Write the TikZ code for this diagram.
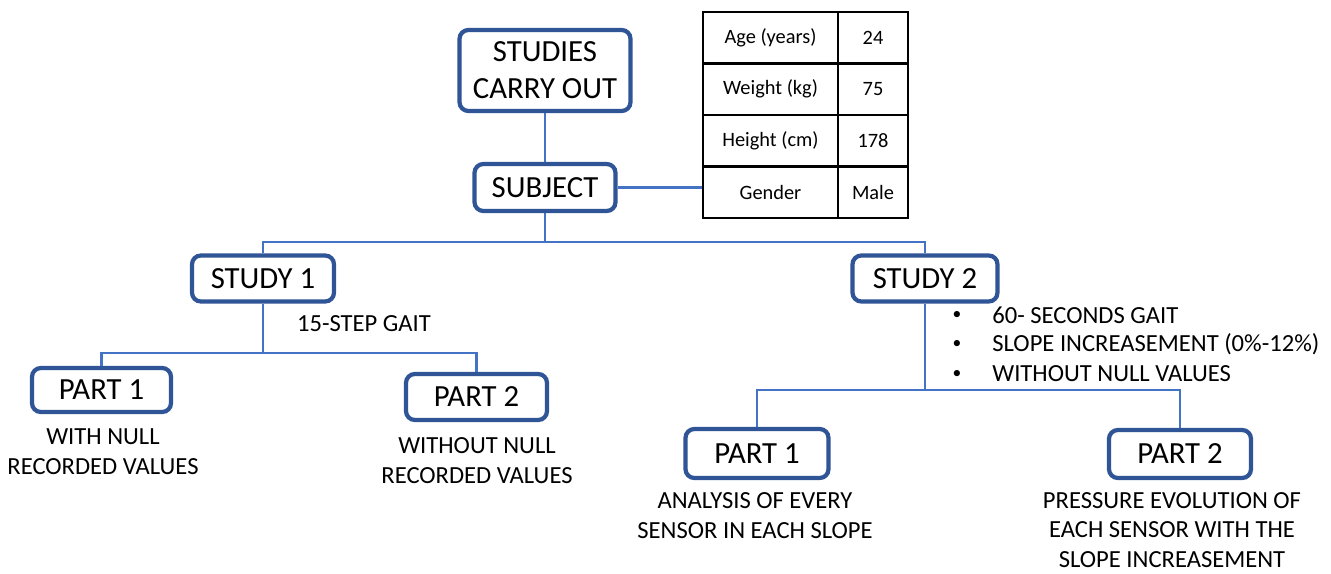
\documentclass[tikz,border=0pt]{standalone}
\usepackage{fontspec}
\setmainfont{Carlito}
\usetikzlibrary{positioning, calc}
\definecolor{boxblue}{HTML}{2F5597}
\definecolor{lineblue}{HTML}{4472C4}

\begin{document}
\begin{tikzpicture}[x=0.02cm, y=-0.02cm,
  box/.style={draw=boxblue, line width=2.4pt, rounded corners=5pt, fill=white,
              minimum width=2.84cm, minimum height=0.92cm, inner sep=0pt,
              align=center, font=\fontsize{17.5}{21}\selectfont},
  conn/.style={draw=lineblue, line width=1.5pt},
  note/.style={inner sep=0pt, align=center, font=\fontsize{14}{17}\selectfont},
  cell/.style={draw=black, line width=1.2pt, inner sep=0pt, minimum height=1.03cm,
               font=\fontsize{11.6}{14}\selectfont}]

\useasboundingbox (0,0) rectangle (1331,574);

% =============== TOP ===============
\node[box, minimum width=3.42cm, minimum height=1.62cm] (studies) at (545,70.5) {STUDIES\\CARRY OUT};
\node[box, minimum width=2.82cm, minimum height=0.94cm] (subject) at (545,187.5) {SUBJECT};

% subject data table
\foreach \lab/\val [count=\r] in {Age (years)/24, Weight (kg)/75, Height (cm)/178, Gender/Male}{
  \node[cell, minimum width=2.7cm] (lab\r) at (770.5,{12+51.5*(\r-0.5)}) {\lab};
  \node[cell, minimum width=1.4cm] (val\r) at (873,{12+51.5*(\r-0.5)}) {\val};
}

\draw[conn] (studies.south) -- (subject.north);
\draw[conn] (subject.east) -- (subject.east -| lab4.west);

% =============== STUDY 1 ===============
\node[box] (study1) at (263,278.5) {STUDY 1};
\node[note] (gait1) at (364,324) {15-STEP GAIT};
\node[box, minimum width=2.78cm, minimum height=0.88cm] (s1p1) at (101.5,390) {PART 1};
\node[box, minimum width=2.82cm] (s1p2) at (476.5,397) {PART 2};
\node[note] (s1n1) at (103,452) {WITH NULL\\RECORDED VALUES};
\node[note] (s1n2) at (477,461) {WITHOUT NULL\\RECORDED VALUES};

% =============== STUDY 2 ===============
\node[box, minimum width=2.9cm] (study2) at (925,278.5) {STUDY 2};
\foreach \txt [count=\i] in {60- SECONDS GAIT, SLOPE INCREASEMENT (0\%-12\%), WITHOUT NULL VALUES}{
  \node[note, font=\fontsize{10}{12}\selectfont] (dot\i) at (957,{315+29.5*(\i-1)}) {\textbullet};
  \node[note, anchor=west] (item\i) at (992,{315+29.5*(\i-1)}) {\txt};
}
\node[box, minimum width=2.86cm, minimum height=0.98cm] (s2p1) at (757,453.5) {PART 1};
\node[box, minimum height=0.96cm] (s2p2) at (1180,454) {PART 2};
\node[note] (s2n1) at (755,516) {ANALYSIS OF EVERY\\SENSOR IN EACH SLOPE};
\node[note] (s2n2) at (1172,530) {PRESSURE EVOLUTION OF\\EACH SENSOR WITH THE\\SLOPE INCREASEMENT};

% =============== TREE LINES ===============
\coordinate (j1) at (545,242);
\coordinate (j2) at (263,353);
\coordinate (j3) at (925,390);
\draw[conn] (subject.south) -- (j1);
\draw[conn] (study1.north) |- (j1) -| (study2.north);
\draw[conn] (study1.south) -- (j2);
\draw[conn] (s1p1.north) |- (j2) -| (s1p2.north);
\draw[conn] (study2.south) -- (j3);
\draw[conn] (s2p1.north) |- (j3) -| (s2p2.north);

\end{tikzpicture}
\end{document}
